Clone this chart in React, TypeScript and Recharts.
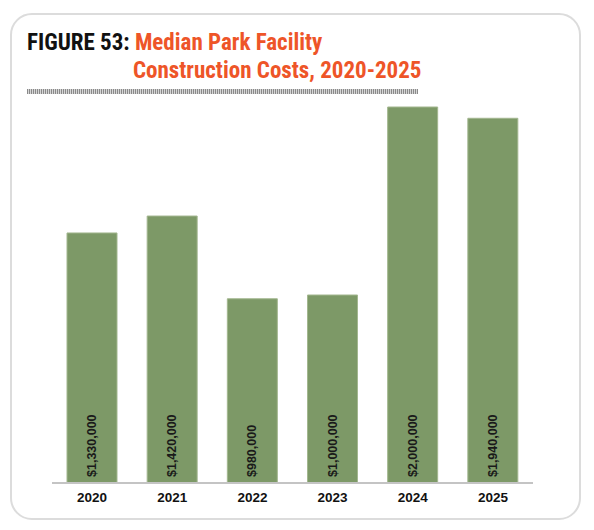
import { BarChart, Bar, XAxis, YAxis, LabelList } from 'recharts';

const years = ['2020', '2021', '2022', '2023', '2024', '2025'];
const medianCosts = [1330000, 1420000, 980000, 1000000, 2000000, 1940000];
const valueLabels = ['$1,330,000', '$1,420,000', '$980,000', '$1,000,000', '$2,000,000', '$1,940,000'];

const data = years.map((year, i) => ({ year, cost: medianCosts[i], label: valueLabels[i] }));

const titleFont = '"Liberation Sans Narrow", "Roboto Condensed", "DejaVu Sans Condensed", Roboto, sans-serif';

// rotated value label sitting at the bottom of each bar
const BarLabel = (props: any) => {
  const { x, y, width, height, value } = props;
  const cx = x + width / 2;
  const by = y + height - 6;
  return (
    <text
      x={cx}
      y={by}
      transform={`rotate(-90 ${cx} ${by})`}
      textAnchor="start"
      dominantBaseline="central"
      fontFamily='"Liberation Sans", Arial, sans-serif'
      fontSize={12.5}
      fontWeight={600}
      fill="#1a1a1a"
    >
      {value}
    </text>
  );
};

export default function App() {
  return (
    <div style={{ position: 'absolute', left: 0, top: 0, width: 594, height: 530, background: '#fff', overflow: 'hidden' }}>
      <div
        style={{
          position: 'absolute',
          left: 10,
          top: 13,
          width: 567,
          height: 503,
          border: '2px solid #dcdcdc',
          borderRadius: 22,
        }}
      />
      <div style={{ position: 'absolute', left: 27, top: 29, fontFamily: titleFont, fontWeight: 700, fontSize: 23, lineHeight: '28px' }}>
        <div style={{ whiteSpace: 'nowrap' }}>
          <span style={{ color: '#111' }}>FIGURE 53: </span>
          <span style={{ color: '#ee5528' }}>Median Park Facility</span>
        </div>
        <div style={{ whiteSpace: 'nowrap', color: '#ee5528', paddingLeft: 106 }}>Construction Costs, 2020-2025</div>
      </div>
      <div
        style={{
          position: 'absolute',
          left: 27,
          top: 89,
          width: 391,
          height: 5,
          background: 'repeating-linear-gradient(90deg, #8a8a8a 0px, #8a8a8a 1px, #d6d6d6 1px, #d6d6d6 2px)',
        }}
      />
      <div style={{ position: 'absolute', left: 0, top: 0 }}>
        <BarChart width={594} height={530} data={data} margin={{ top: 107, right: 61, bottom: 17, left: 52 }} barCategoryGap={15}>
          <YAxis hide domain={[0, 2000000]} />
          <XAxis
            dataKey="year"
            height={30}
            tickLine={false}
            axisLine={{ stroke: '#c4c4c4', strokeWidth: 2 }}
            tick={{ fill: '#111', fontSize: 13.5, fontWeight: 700, fontFamily: '"Liberation Sans", Arial, sans-serif' }}
            tickMargin={3}
          />
          <Bar dataKey="cost" fill="#7d9967" stroke="#a3b78f" strokeWidth={1} isAnimationActive={false}>
            <LabelList dataKey="label" content={BarLabel} />
          </Bar>
        </BarChart>
      </div>
    </div>
  );
}
